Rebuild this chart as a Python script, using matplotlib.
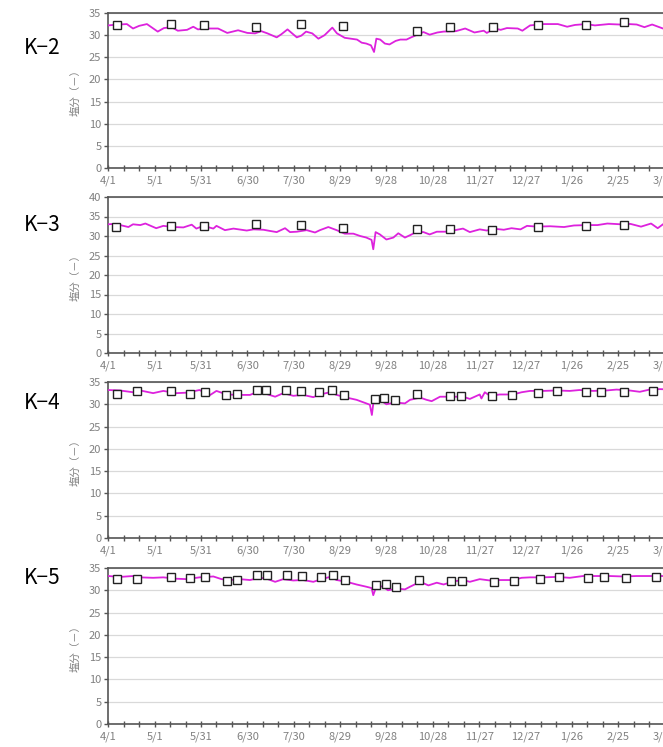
import matplotlib
matplotlib.use("Agg")
import matplotlib.pyplot as plt

plt.rcParams['font.family'] = ['Noto Sans CJK JP', 'DejaVu Sans']

tick_days = [0, 30, 60, 90, 120, 150, 180, 210, 240, 270, 300, 330, 360]
tick_labels = ["4/1", "5/1", "5/31", "6/30", "7/30", "8/29", "9/28", "10/28",
               "11/27", "12/27", "1/26", "2/25", "3/27"]

# ---- K-2 ----
k2_days = [0, 3, 7, 12, 16, 20, 25, 32, 36, 41, 45, 51, 55, 58, 64, 71, 77, 84, 90, 95,
           99, 103, 109, 112, 116, 122, 125, 128, 132, 136, 140, 145, 148, 153, 157, 161,
           164, 167, 170, 172, 173.5, 176, 179, 182, 186, 189, 193, 196, 200, 204, 208,
           213, 217, 225, 231, 237, 243, 245, 250, 254, 258, 265, 268, 273, 282, 291,
           297, 302, 309, 315, 324, 331, 337, 342, 347, 352, 359, 365]
k2_vals = [32.2, 32.3, 32.4, 32.5, 31.5, 32.1, 32.5, 30.8, 31.6, 31.8, 31.0, 31.2, 31.9,
           31.3, 31.5, 31.5, 30.5, 31.1, 30.5, 30.4, 30.9, 30.4, 29.5, 30.2, 31.3, 29.5,
           29.9, 30.8, 30.4, 29.2, 30.0, 31.7, 30.4, 29.4, 29.2, 29.0, 28.3, 28.1, 27.7,
           26.2, 29.2, 29.0, 28.1, 27.9, 28.7, 29.0, 29.0, 29.5, 30.1, 30.7, 30.1, 30.6,
           30.8, 30.9, 31.5, 30.6, 31.0, 30.5, 31.5, 31.2, 31.6, 31.5, 31.0, 32.2, 32.5,
           32.5, 31.9, 32.3, 32.5, 32.2, 32.5, 32.4, 32.5, 32.4, 31.8, 32.4, 31.5, 32.0]
k2_obs_days = [5.4, 40.5, 62, 95.7, 124.5, 152, 200, 221, 248.7, 278.4, 309, 334]
k2_obs_vals = [32.2, 32.5, 32.3, 31.8, 32.5, 32.0, 30.9, 31.9, 31.8, 32.2, 32.4, 32.9]

# ---- K-3 ----
k3_days = [0, 3.4, 7.7, 13, 16, 20.7, 24, 31, 35.6, 42, 48.6, 54, 57, 61.5, 68, 70, 75.5,
           81, 89.6, 94, 100.4, 104.6, 109, 114.4, 117.6, 122, 128.4, 133.8, 137, 142.4,
           147.8, 153, 158.6, 163, 167, 170.4, 171.5, 173, 175.8, 180, 184.5, 187.7, 192,
           196.3, 199.6, 204, 208, 212.6, 218, 223, 229.6, 234, 240.4, 245, 249, 256, 261,
           266.8, 271, 277.5, 286, 295, 301.4, 310, 316.6, 323, 331.7, 338, 344.8, 351.3,
           355.6, 359.7, 365]
k3_vals = [33.0, 33.1, 32.8, 32.3, 33.0, 32.8, 33.2, 32.0, 32.6, 32.3, 32.2, 32.9, 31.9,
           32.6, 31.9, 32.6, 31.5, 31.9, 31.4, 31.7, 31.6, 31.3, 31.0, 32.0, 31.0, 31.1,
           31.5, 30.9, 31.5, 32.3, 31.5, 30.6, 30.6, 30.0, 29.6, 29.0, 26.6, 31.0, 30.4,
           29.1, 29.6, 30.7, 29.6, 30.4, 31.1, 31.0, 30.4, 31.1, 31.1, 31.4, 31.9, 31.0,
           31.7, 31.4, 31.9, 31.6, 32.0, 31.7, 32.6, 32.4, 32.5, 32.3, 32.7, 32.8, 32.8,
           33.2, 33.0, 33.1, 32.4, 33.2, 32.0, 33.2, 33.0]
k3_obs_days = [5.2, 40.4, 62, 95.6, 124.5, 152, 200, 221, 248.6, 278.4, 309, 334]
k3_obs_vals = [32.2, 32.6, 32.6, 33.2, 32.7, 32.1, 31.9, 31.9, 31.6, 32.3, 32.5, 32.7]

# ---- K-4 ----
k4_days = [0, 7.5, 16, 20.7, 29, 35.6, 44, 50.7, 59, 66, 70, 76.6, 85, 91.7, 96, 102.5,
           108, 113.3, 119.7, 126, 132.7, 137, 143.5, 147.8, 154.3, 160.7, 167, 169.3,
           170.6, 171.8, 175.8, 180, 185.6, 192, 195.3, 201.8, 206, 209.3, 214.7, 221,
           229.7, 234, 240.4, 241.5, 243.7, 247, 253.4, 262, 267.5, 273, 281.5, 290,
           298.7, 305, 313.7, 322.3, 329, 337.4, 344, 350.4, 357, 365]
k4_vals = [33.2, 33.1, 32.7, 33.1, 32.5, 33.0, 32.5, 32.6, 33.2, 32.1, 33.0, 32.2, 32.1,
           32.1, 32.7, 32.3, 31.7, 32.5, 31.9, 32.1, 31.6, 32.2, 32.7, 32.1, 31.5, 31.0,
           30.2, 29.9, 27.6, 31.0, 31.0, 30.0, 30.4, 30.2, 31.0, 31.5, 31.0, 30.7, 31.7,
           31.7, 31.7, 31.2, 32.2, 31.3, 32.7, 31.9, 32.2, 32.2, 32.7, 33.0, 33.0, 33.1,
           33.0, 33.2, 33.0, 33.1, 33.3, 33.1, 32.8, 33.3, 33.4, 33.3]
k4_obs_days = [5.8, 18.8, 40.4, 52.6, 62.3, 76.4, 83.3, 96, 101.9, 114.8, 125, 136.4,
               144.6, 152.5, 172.5, 178.5, 185.4, 200, 221, 228, 248.6, 261.6, 278.4,
               290.3, 309, 319, 333.8, 352.5]
k4_obs_vals = [32.4, 33.0, 33.0, 32.4, 32.7, 32.0, 32.3, 33.3, 33.2, 33.2, 33.0, 32.7,
               33.3, 32.1, 31.1, 31.5, 30.9, 32.3, 31.9, 31.9, 31.9, 32.0, 32.5, 33.0,
               32.8, 32.8, 32.8, 33.0]

# ---- K-5 ----
k5_days = [0, 7.7, 16, 20.7, 29, 35.6, 44, 50.7, 59, 68, 73.3, 79, 85, 91.7, 98.3, 102.5,
           108, 113.3, 119.7, 126, 132.7, 138, 143.5, 147.8, 154.3, 160.7, 167, 170.4,
           171.5, 173.6, 178, 181, 186.6, 192, 195.3, 201.8, 207.2, 212.6, 217, 223.4,
           229.7, 234, 240.4, 247, 253.4, 262, 267.5, 273, 281.5, 290, 298.7, 307.3,
           316, 324.5, 333, 342, 350.4, 359, 365]
k5_vals = [33.2, 33.0, 33.2, 32.9, 32.8, 32.9, 32.6, 32.5, 32.9, 33.1, 32.5, 32.3, 32.5,
           32.3, 32.8, 32.6, 31.9, 32.5, 32.2, 32.3, 31.9, 32.5, 33.0, 32.3, 31.9, 31.3,
           30.8, 30.5, 28.9, 31.0, 30.8, 30.0, 30.4, 30.2, 30.8, 31.9, 31.1, 31.7, 31.3,
           32.0, 32.3, 31.9, 32.5, 32.2, 32.3, 32.3, 32.8, 32.9, 32.9, 33.0, 32.8, 33.2,
           33.2, 33.2, 33.1, 33.2, 33.2, 33.2, 33.2]
k5_obs_days = [5.8, 18.8, 40.5, 52.8, 62.7, 76.8, 83.4, 96.3, 102.5, 115.4, 125.3, 137.6,
               145.4, 153.2, 173.3, 179.5, 186.2, 200.9, 222, 229, 249.5, 262.5, 279.5,
               291.5, 310.3, 320.6, 335, 354.3]
k5_obs_vals = [32.5, 32.5, 32.9, 32.7, 32.9, 32.0, 32.3, 33.4, 33.4, 33.4, 33.1, 32.9,
               33.5, 32.4, 31.1, 31.4, 30.8, 32.3, 32.0, 32.0, 31.9, 32.0, 32.5, 33.0,
               32.7, 32.9, 32.7, 32.9]

panels = [
    ("K\u22122", k2_days, k2_vals, k2_obs_days, k2_obs_vals, 35),
    ("K\u22123", k3_days, k3_vals, k3_obs_days, k3_obs_vals, 40),
    ("K\u22124", k4_days, k4_vals, k4_obs_days, k4_obs_vals, 35),
    ("K\u22125", k5_days, k5_vals, k5_obs_days, k5_obs_vals, 35),
]

W, H = 663, 747
fig = plt.figure(figsize=(W / 100, H / 100), dpi=100)

tops = [13, 197, 382, 568]
heights = [155, 156, 156, 156]
label_y = [48, 225, 403, 578]
left_px = 108.3
px_per_day = 1.545
xmax = 365

grey_txt = "#808080"
spine_c = "#555555"

for (name, d, v, od, ov, ymax), top, h, ly in zip(panels, tops, heights, label_y):
    ax = fig.add_axes([left_px / W, (H - top - h) / H, xmax * px_per_day / W, h / H])
    ax.set_xlim(0, xmax)
    ax.set_ylim(0, ymax)
    ax.set_yticks(range(0, ymax + 1, 5))
    ax.yaxis.grid(True, color="#d9d9d9", linewidth=0.9)
    ax.set_axisbelow(True)
    ax.plot(d, v, color="#dd22dd", linewidth=1.3, zorder=3)
    ax.plot(od, ov, linestyle="none", marker="s", markersize=5.5,
            markerfacecolor="white", markeredgecolor="#222222", markeredgewidth=1.0,
            zorder=4)
    ax.set_xticks(tick_days)
    ax.set_xticklabels(tick_labels)
    ax.set_xticks(range(0, xmax + 1, 10), minor=True)
    ax.tick_params(axis="x", which="major", direction="inout", length=5, width=1,
                   color=spine_c, labelsize=8, labelcolor=grey_txt, pad=3)
    ax.tick_params(axis="x", which="minor", direction="inout", length=4, width=1,
                   color=spine_c)
    ax.tick_params(axis="y", which="major", direction="out", length=3, width=1,
                   color=spine_c, labelsize=8, labelcolor=grey_txt, pad=2)
    for s in ["left", "bottom", "top", "right"]:
        ax.spines[s].set_color(spine_c)
        ax.spines[s].set_linewidth(1.2)
    ax.set_ylabel("塩分（－）", color=grey_txt, fontsize=7.5, labelpad=6)
    fig.text(24 / W, 1 - ly / H, name, fontsize=15, color="black",
             ha="left", va="center")

fig.savefig("out.png", dpi=100)
